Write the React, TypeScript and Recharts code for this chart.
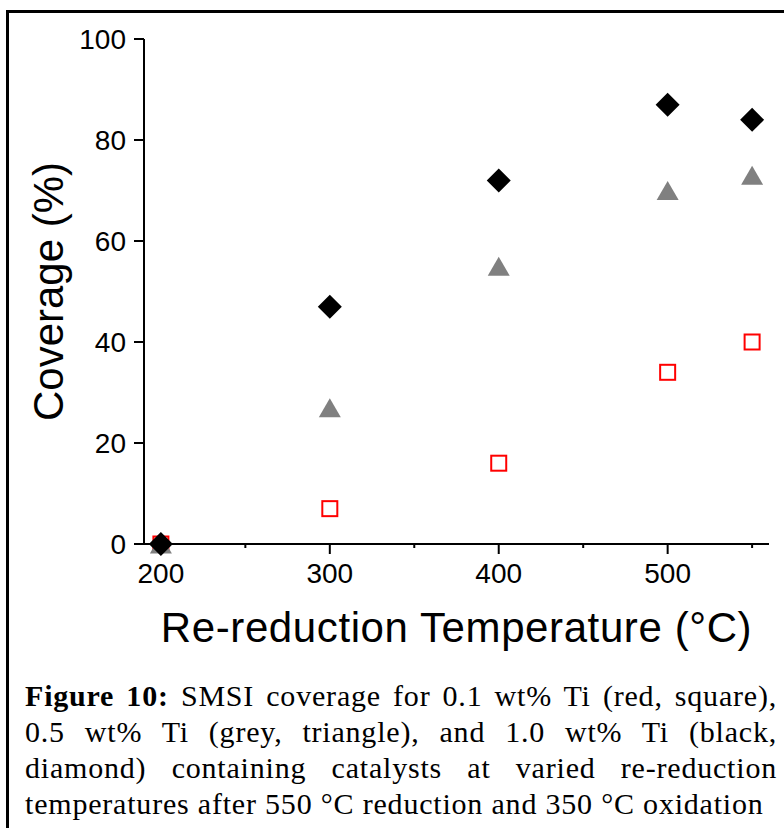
import React from 'react';
import { ScatterChart, Scatter, XAxis, YAxis, Label } from 'recharts';

// re-reduction temperature (°C) and SMSI coverage (%) per Ti loading
const temperatures = [200, 300, 400, 500, 550];
const ti01 = [0, 7, 16, 34, 40];
const ti05 = [0, 27, 55, 70, 73];
const ti10 = [0, 47, 72, 87, 84];

const xTicks = [200, 250, 300, 350, 400, 450, 500, 550];
const yTicks = [0, 20, 40, 60, 80, 100];

const SANS = '"Liberation Sans", Arial, sans-serif';
const SERIF = '"Liberation Serif", "Times New Roman", serif';

const toPoints = (values: number[]) => temperatures.map((t, i) => ({ t, v: values[i] }));

const Square = ({ cx, cy }: any) => (
  <rect x={cx - 7.5} y={cy - 7.5} width={15} height={15} fill="#fff" stroke="#ff0000" strokeWidth={2} />
);

const Triangle = ({ cx, cy }: any) => (
  <polygon points={`${cx},${cy - 9.5} ${cx + 11},${cy + 9.5} ${cx - 11},${cy + 9.5}`} fill="#808080" />
);

const Diamond = ({ cx, cy }: any) => (
  <polygon points={`${cx},${cy - 12} ${cx + 12},${cy} ${cx},${cy + 12} ${cx - 12},${cy}`} fill="#000" />
);

// major ticks get a label, the in-between ones only a short mark
const XTick = ({ x, y, payload }: any) => {
  const major = payload.value % 100 === 0;
  return (
    <g>
      <line x1={x} x2={x} y1={y} y2={y + (major ? 10 : 4)} stroke="#000" strokeWidth={2} />
      {major && (
        <text x={x} y={y + 39} textAnchor="middle" fill="#000" fontSize={28} fontFamily={SANS}>
          {payload.value}
        </text>
      )}
    </g>
  );
};

const YTitle = ({ viewBox }: any) => {
  const cx = viewBox.x + 49;
  const cy = viewBox.y + viewBox.height / 2;
  return (
    <text x={cx} y={cy} transform={`rotate(-90 ${cx} ${cy})`} textAnchor="middle" fill="#000" fontSize={42} fontFamily={SANS}>
      Coverage (%)
    </text>
  );
};

const XTitle = ({ viewBox }: any) => (
  <text
    x={viewBox.x + viewBox.width / 2}
    y={viewBox.y + 98}
    textAnchor="middle"
    fill="#000"
    fontSize={42}
    letterSpacing={0.6}
    fontFamily={SANS}
  >
    Re-reduction Temperature (°C)
  </text>
);

const captionLines = [
  <><b>Figure 10:</b> SMSI coverage for 0.1 wt% Ti (red, square),</>,
  <>0.5 wt% Ti (grey, triangle), and 1.0 wt% Ti (black,</>,
  <>diamond) containing catalysts at varied re-reduction</>,
  <>temperatures after 550 °C reduction and 350 °C oxidation</>,
];

export default function App() {
  return (
    <div style={{ position: 'absolute', left: 0, top: 0, width: 784, height: 828, background: '#fff', overflow: 'hidden' }}>
      <div
        style={{
          position: 'absolute',
          left: 6,
          top: 10,
          width: 820,
          height: 860,
          borderLeft: '3px solid #000',
          borderTop: '3px solid #000',
        }}
      />
      <div style={{ position: 'absolute', left: 0, top: 0 }}>
        <ScatterChart width={784} height={660} margin={{ top: 39, right: 15, bottom: 16, left: 14 }}>
          <XAxis
            type="number"
            dataKey="t"
            domain={[190, 560]}
            ticks={xTicks}
            interval={0}
            tickSize={0}
            tickMargin={0}
            tick={<XTick />}
            height={100}
            axisLine={{ stroke: '#000', strokeWidth: 2 }}
          >
            <Label content={<XTitle />} />
          </XAxis>
          <YAxis
            type="number"
            dataKey="v"
            domain={[0, 100]}
            ticks={yTicks}
            interval={0}
            width={130}
            tickSize={10}
            tickMargin={8}
            tick={{ fill: '#000', fontSize: 28, fontFamily: SANS }}
            tickLine={{ stroke: '#000', strokeWidth: 2 }}
            axisLine={{ stroke: '#000', strokeWidth: 2 }}
          >
            <Label content={<YTitle />} />
          </YAxis>
          <Scatter data={toPoints(ti01)} shape={<Square />} isAnimationActive={false} />
          <Scatter data={toPoints(ti05)} shape={<Triangle />} isAnimationActive={false} />
          <Scatter data={toPoints(ti10)} shape={<Diamond />} isAnimationActive={false} />
        </ScatterChart>
      </div>
      <div
        style={{
          position: 'absolute',
          left: 25,
          top: 678,
          width: 752,
          fontFamily: SERIF,
          fontSize: 30,
          lineHeight: '36px',
          letterSpacing: 0.8,
          color: '#000',
        }}
      >
        {captionLines.map((line, i) => (
          <div key={i} style={{ textAlign: 'justify', textAlignLast: i < 3 ? 'justify' : 'left', whiteSpace: 'nowrap' }}>
            {line}
          </div>
        ))}
      </div>
    </div>
  );
}
